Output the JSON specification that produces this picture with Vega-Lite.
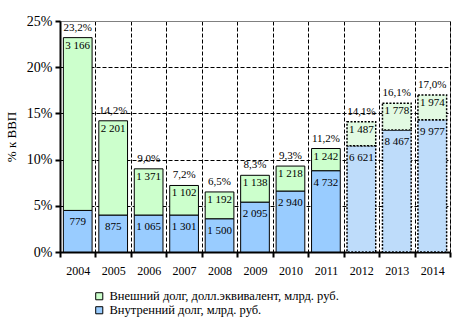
{
  "$schema": "https://vega.github.io/schema/vega-lite/v6.json",
  "autosize": {"type": "none"},
  "padding": {"left": 60, "top": 21, "right": 8, "bottom": 76},
  "width": 390,
  "height": 231,
  "background": "white",
  "config": {
    "font": "Liberation Serif",
    "locale": {"number": {"decimal": ",", "thousands": " ", "grouping": [3], "currency": ["", ""]}},
    "view": {"stroke": "#808080", "strokeWidth": 1},
    "text": {"font": "Liberation Serif"},
    "legend": {"labelFont": "Liberation Serif"},
    "axis": {"zindex": 0, "labelFont": "Liberation Serif", "titleFont": "Liberation Serif", "domainColor": "black", "tickColor": "black", "labelColor": "black", "titleColor": "black", "domainWidth": 2, "tickWidth": 2, "tickSize": 5, "gridColor": "black", "gridDash": [4, 2], "gridWidth": 1, "gridOpacity": 1}
  },
  "data": {"values": [
    {"year": "2004", "internal_pct": 0.045, "total_pct": 0.232, "internal": 779, "external": 3166, "forecast": false},
    {"year": "2005", "internal_pct": 0.040, "total_pct": 0.142, "internal": 875, "external": 2201, "forecast": false},
    {"year": "2006", "internal_pct": 0.040, "total_pct": 0.090, "internal": 1065, "external": 1371, "forecast": false},
    {"year": "2007", "internal_pct": 0.040, "total_pct": 0.072, "internal": 1301, "external": 1102, "forecast": false},
    {"year": "2008", "internal_pct": 0.036, "total_pct": 0.065, "internal": 1500, "external": 1192, "forecast": false},
    {"year": "2009", "internal_pct": 0.054, "total_pct": 0.083, "internal": 2095, "external": 1138, "forecast": false},
    {"year": "2010", "internal_pct": 0.066, "total_pct": 0.093, "internal": 2940, "external": 1218, "forecast": false},
    {"year": "2011", "internal_pct": 0.088, "total_pct": 0.112, "internal": 4732, "external": 1242, "forecast": false},
    {"year": "2012", "internal_pct": 0.115, "total_pct": 0.141, "internal": 6621, "external": 1487, "forecast": true},
    {"year": "2013", "internal_pct": 0.132, "total_pct": 0.161, "internal": 8467, "external": 1778, "forecast": true},
    {"year": "2014", "internal_pct": 0.143, "total_pct": 0.170, "internal": 9977, "external": 1974, "forecast": true}
  ]},
  "encoding": {
    "x": {"field": "year", "type": "ordinal", "scale": {"paddingInner": 0, "paddingOuter": 0},
      "axis": {"title": null, "labelAngle": 0, "tickBand": "extent", "grid": true, "labelFontSize": 12, "labelPadding": 8}}
  },
  "layer": [
    {
      "transform": [{"filter": "!datum.forecast"}],
      "mark": {"type": "bar", "width": {"band": 0.81}, "stroke": "black", "strokeWidth": 1},
      "encoding": {
        "y": {"field": "internal_pct", "type": "quantitative", "scale": {"domain": [0, 0.25], "nice": false},
          "axis": {"title": "% к ВВП", "titleFontSize": 13, "titleFontWeight": "normal", "titlePadding": 8, "format": ".0%", "values": [0, 0.05, 0.1, 0.15, 0.2, 0.25], "labelFontSize": 14, "labelPadding": 3, "grid": true,
            "gridColor": {"condition": {"test": "datum.value >= 0.25", "value": "#808080"}, "value": "black"},
            "gridDash": {"condition": {"test": "datum.value >= 0.25", "value": []}, "value": [4, 2]}}},
        "color": {"datum": "Внутренний долг, млрд. руб.", "type": "nominal",
          "scale": {"domain": ["Внешний долг, долл.эквивалент, млрд. руб.", "Внутренний долг, млрд. руб."], "range": ["#CCFFCC", "#99CCFF"]},
          "legend": {"orient": "none", "legendX": 33, "legendY": 269, "title": null, "symbolType": "square", "symbolSize": 50, "symbolStrokeColor": "black", "symbolStrokeWidth": 1, "symbolOpacity": 1, "labelFontSize": 12.5, "rowPadding": 1, "labelOffset": 4, "labelLimit": 400}}
      }
    },
    {
      "transform": [{"filter": "!datum.forecast"}],
      "mark": {"type": "bar", "width": {"band": 0.81}, "stroke": "black", "strokeWidth": 1},
      "encoding": {
        "y": {"field": "internal_pct", "type": "quantitative"},
        "y2": {"field": "total_pct"},
        "color": {"datum": "Внешний долг, долл.эквивалент, млрд. руб.", "type": "nominal"}
      }
    },
    {
      "transform": [{"filter": "datum.forecast"}],
      "mark": {"type": "bar", "width": {"band": 0.81}, "fill": "#BEDCFA", "stroke": "black", "strokeWidth": 1.5, "strokeDash": [2, 1.5]},
      "encoding": {
        "y": {"field": "internal_pct", "type": "quantitative"}
      }
    },
    {
      "transform": [{"filter": "datum.forecast"}],
      "mark": {"type": "bar", "width": {"band": 0.81}, "fill": "#E2FAE2", "stroke": "black", "strokeWidth": 1.5, "strokeDash": [2, 1.5]},
      "encoding": {
        "y": {"field": "internal_pct", "type": "quantitative"},
        "y2": {"field": "total_pct"}
      }
    },
    {
      "mark": {"type": "text", "baseline": "top", "dy": 6, "fontSize": 11, "color": "black", "font": "Liberation Serif"},
      "encoding": {
        "y": {"field": "internal_pct", "type": "quantitative"},
        "text": {"field": "internal", "type": "quantitative", "format": ",d"}
      }
    },
    {
      "mark": {"type": "text", "baseline": "top", "dy": 2, "fontSize": 11, "color": "black", "font": "Liberation Serif"},
      "encoding": {
        "y": {"field": "total_pct", "type": "quantitative"},
        "text": {"field": "external", "type": "quantitative", "format": ",d"}
      }
    },
    {
      "mark": {"type": "text", "baseline": "middle", "dy": -10, "fontSize": 11, "color": "black", "font": "Liberation Serif"},
      "encoding": {
        "y": {"field": "total_pct", "type": "quantitative"},
        "text": {"field": "total_pct", "type": "quantitative", "format": ".1%"}
      }
    }
  ]
}
